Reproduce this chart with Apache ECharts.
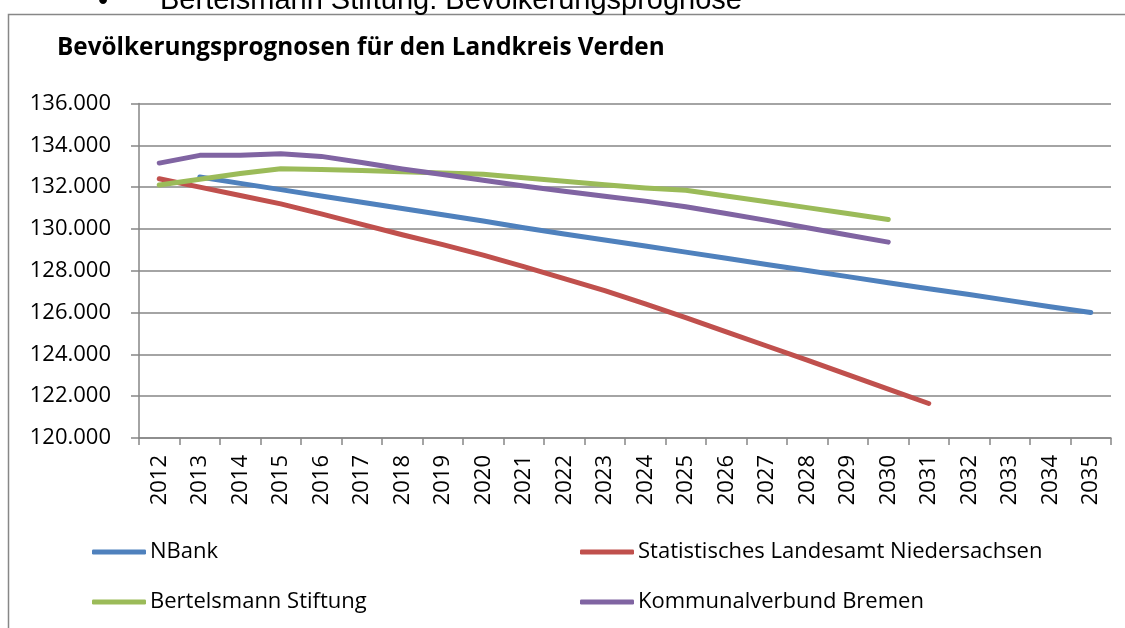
<!DOCTYPE html>
<html>
<head>
<meta charset="utf-8">
<script src="https://cdn.jsdelivr.net/npm/echarts@6/dist/echarts.min.js"></script>
<style>
html,body{margin:0;padding:0;background:#fff;}
#c{width:1125px;height:628px;}
</style>
</head>
<body>
<div id="c"></div>
<script>
const years = ['2012','2013','2014','2015','2016','2017','2018','2019','2020','2021','2022','2023','2024','2025','2026','2027','2028','2029','2030','2031','2032','2033','2034','2035'];
const nbank = [null,132480,132180,131880,131580,131280,130980,130680,130380,130060,129760,129470,129180,128890,128600,128300,128010,127720,127430,127140,126860,126570,126280,126000];
const landesamt = [132400,132000,131600,131200,130720,130220,129720,129250,128750,128200,127620,127050,126420,125760,125080,124400,123720,123030,122340,121650,null,null,null,null];
const bertelsmann = [132100,132380,132650,132880,132840,132790,132740,132680,132620,132450,132280,132110,131960,131850,131580,131300,131020,130740,130450,null,null,null,null,null];
const kommunal = [133150,133520,133520,133600,133470,133180,132870,132600,132330,132050,131800,131560,131330,131060,130740,130410,130060,129710,129370,null,null,null,null,null];
const seriesNames = ['NBank','Statistisches Landesamt Niedersachsen','Bertelsmann Stiftung','Kommunalverbund Bremen'];
const seriesColors = ['#4F81BD','#C0504D','#9BBB59','#8064A2'];
const titleText = 'Bevölkerungsprognosen für den Landkreis Verden';
const topText = 'Bertelsmann Stiftung: Bevölkerungsprognose';

const chart = echarts.init(document.getElementById('c'));
const dataArr = [nbank, landesamt, bertelsmann, kommunal];
const legendPos = [[87,536],[575,536],[87,586],[575,586]];
const font = '"Open Sans", "DejaVu Sans", sans-serif';

chart.setOption({
  animation:false,
  backgroundColor:'#fff',
  grid:{left:139,right:14,top:103.5,bottom:190,containLabel:false},
  xAxis:{
    type:'category',data:years,boundaryGap:true,
    axisLine:{lineStyle:{color:'#868686',width:1.5}},
    axisTick:{show:true,interval:0,length:7,lineStyle:{color:'#868686',width:1.5}},
    axisLabel:{interval:0,rotate:90,margin:17,color:'#000',fontSize:22,fontFamily:font}
  },
  yAxis:{
    type:'value',min:120000,max:136000,interval:2000,
    axisLine:{show:true,lineStyle:{color:'#868686',width:1.5}},
    axisTick:{show:true,length:8,lineStyle:{color:'#868686',width:1.5}},
    splitLine:{show:true,lineStyle:{color:'#868686',width:1.5}},
    axisLabel:{margin:28,color:'#000',fontSize:22,fontFamily:font,formatter:v=>(v/1000).toFixed(3)}
  },
  legend: seriesNames.map((n,i)=>({
    data:[n],left:legendPos[i][0],top:legendPos[i][1],
    icon:'roundRect',itemWidth:54,itemHeight:5,itemGap:0,
    textStyle:{color:'#000',fontSize:22,fontFamily:font,padding:[0,0,0,-1]},
    selectedMode:false
  })),
  series: seriesNames.map((n,i)=>({
    name:n,type:'line',data:dataArr[i],color:seriesColors[i],
    symbol:'none',smooth:false,connectNulls:false,
    lineStyle:{width:5,cap:'round',join:'round',color:seriesColors[i]}
  })),
  graphic:[
    {type:'rect',shape:{x:8.5,y:14.5,width:1140,height:700},style:{fill:'none',stroke:'#878787',lineWidth:1.5},silent:true},
    {type:'text',x:98,y:16,style:{text:'•',font:'29px "Liberation Sans", Arial, sans-serif',fill:'#000',textVerticalAlign:'bottom'}},
    {type:'text',x:160,y:15,style:{text:topText,font:'29px "Liberation Sans", Arial, sans-serif',fill:'#000',textVerticalAlign:'bottom'}},
    {type:'text',x:57,y:48,style:{text:titleText,font:'bold 24.3px "Open Sans", sans-serif',fill:'#000',textVerticalAlign:'middle'}}
  ]
});
</script>
</body>
</html>
